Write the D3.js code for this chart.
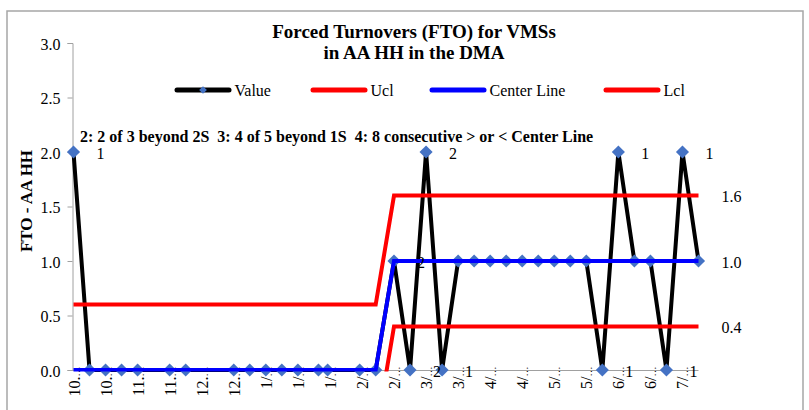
<!DOCTYPE html>
<html>
<head>
<meta charset="utf-8">
<script src="https://cdn.jsdelivr.net/npm/d3@7"></script>
<style>
  body { margin: 0; background: #fff; }
  svg text { font-family: "Liberation Serif", "Times New Roman", serif; fill: #000; }
</style>
</head>
<body>
<svg id="chart" width="809" height="410"></svg>
<script>
// observation dates (weekly, with a few gaps)
var obsDates = ["2011-10-09","2011-10-16","2011-10-23","2011-10-30","2011-11-06","2011-11-20","2011-11-27",
   "2011-12-18","2011-12-25","2012-01-01","2012-01-08","2012-01-15","2012-01-24","2012-01-28","2012-02-11",
   "2012-02-18","2012-02-26","2012-03-04","2012-03-11","2012-03-18","2012-03-25","2012-04-01","2012-04-08",
   "2012-04-15","2012-04-22","2012-04-29","2012-05-06","2012-05-13","2012-05-20","2012-05-27","2012-06-03",
   "2012-06-10","2012-06-17","2012-06-24","2012-07-01","2012-07-08"];
var ftoValues = [2,0,0,0,0,0,0, 0,0,0,0,0,0,0,0, 0,1,0,2,0,1,1,1, 1,1,1,1,1,1,0,2, 1,1,0,2,1];
var uclValues = [0.6,0.6,0.6,0.6,0.6,0.6,0.6, 0.6,0.6,0.6,0.6,0.6,0.6,0.6,0.6, 0.6,1.6,1.6,1.6,1.6,1.6,1.6,1.6,
   1.6,1.6,1.6,1.6,1.6,1.6,1.6,1.6, 1.6,1.6,1.6,1.6,1.6];
var centerValues = [0,0,0,0,0,0,0, 0,0,0,0,0,0,0,0, 0,1,1,1,1,1,1,1, 1,1,1,1,1,1,1,1, 1,1,1,1,1];
var lclValues = [-0.6,-0.6,-0.6,-0.6,-0.6,-0.6,-0.6, -0.6,-0.6,-0.6,-0.6,-0.6,-0.6,-0.6,-0.6, -0.6,0.4,0.4,0.4,0.4,0.4,0.4,0.4,
   0.4,0.4,0.4,0.4,0.4,0.4,0.4,0.4, 0.4,0.4,0.4,0.4,0.4];
// rule flags shown next to points
var ruleFlags = ["1","","","","","","", "","","","","","","","", "","2","2","2","1","","","",
   "","","","","","","1","1", "","","1","1",""];

var xTickDates = ["2011-10-09","2011-10-23","2011-11-06","2011-11-20","2011-12-04","2011-12-18","2012-01-01",
   "2012-01-15","2012-01-29","2012-02-12","2012-02-26","2012-03-11","2012-03-25","2012-04-08","2012-04-22",
   "2012-05-06","2012-05-20","2012-06-03","2012-06-17","2012-07-01"];
var xTickLabels = ["10.","10.","11.","11.","12.","12.","1/","1/","1/","2/","2/","3/","3/","4/","4/","5/","5/","6/","6/","7/"];
var yTicks = [0, 0.5, 1, 1.5, 2, 2.5, 3];

var seriesNames = ["Value", "Ucl", "Center Line", "Lcl"];
var seriesColors = ["#000000", "#ff0000", "#0000ff", "#ff0000"];

var parse = d3.utcParse("%Y-%m-%d");
var svg = d3.select("#chart");

svg.append("rect").attr("x", 7).attr("y", 11).attr("width", 796).attr("height", 420)
   .attr("fill", "#fff").attr("stroke", "#a6a6a6").attr("stroke-width", 1.5);

var dates = obsDates.map(parse);
var x = d3.scaleUtc().domain([dates[0], dates[dates.length - 1]]).range([73.5, 698.5]);
var y = d3.scaleLinear().domain([0, 3]).range([370, 43]);

// title
var title = svg.append("text").attr("text-anchor", "middle")
   .style("font-size", "19px").style("font-weight", "bold");
title.append("tspan").attr("x", 414).attr("y", 38).text("Forced Turnovers (FTO) for VMSs");
title.append("tspan").attr("x", 414).attr("y", 59).text("in AA HH in the DMA");

// axes
var yAxis = svg.append("g").attr("transform", "translate(72.5,0)")
   .call(d3.axisLeft(y).tickValues(yTicks).tickFormat(d3.format(".1f")).tickSizeOuter(0).tickSize(5).tickPadding(7));
yAxis.selectAll("path, line").attr("stroke", "#a0a0a0");
yAxis.selectAll("text").style("font-size", "16px").attr("dy", "0.4em");

var xAxis = svg.append("g").attr("transform", "translate(0,370.5)")
   .call(d3.axisBottom(x).tickValues(xTickDates.map(parse)).tickSize(0)
      .tickFormat(function(d, i) { return xTickLabels[i]; }));
xAxis.select("path").attr("stroke", "#a0a0a0").attr("d", "M72.5,0H698.5");
xAxis.selectAll("text").attr("x", 0).attr("y", 0).attr("dy", null)
   .attr("transform", "translate(5.5,-4) rotate(-90)")
   .style("text-anchor", "end").style("font-size", "16px")
   .append("tspan").style("font-size", "10px").text("\u2026");

svg.append("text").attr("transform", "translate(31.5,201) rotate(-90)").attr("text-anchor", "middle")
   .style("font-size", "17px").style("font-weight", "bold").text("FTO - AA HH");

svg.append("text").attr("x", 80).attr("y", 142).style("font-size", "16px").style("font-weight", "bold")
   .style("white-space", "pre")
   .text("2: 2 of 3 beyond 2S  3: 4 of 5 beyond 1S  4: 8 consecutive > or < Center Line");

// plot clip
svg.append("clipPath").attr("id", "plotclip").append("rect")
   .attr("x", 60).attr("y", 30).attr("width", 660).attr("height", 341.5);

var line = d3.line().x(function(d) { return x(d.date); }).y(function(d) { return y(d.v); });
function seriesData(vals) { return vals.map(function(v, i) { return {date: dates[i], v: v}; }); }

var diamond = d3.symbol().type(d3.symbolSquare).size(86);

// Value series with markers
var gVal = svg.append("g");
gVal.append("path").datum(seriesData(ftoValues)).attr("d", line)
   .attr("fill", "none").attr("stroke", seriesColors[0]).attr("stroke-width", 4).attr("stroke-linejoin", "round");
gVal.selectAll("path.mark").data(seriesData(ftoValues)).enter().append("path").attr("class", "mark")
   .attr("d", diamond).attr("fill", "#4472c4")
   .attr("transform", function(d) { return "translate(" + x(d.date) + "," + y(d.v) + ") rotate(45)"; });

[uclValues, centerValues, lclValues].forEach(function(vals, k) {
   svg.append("path").datum(seriesData(vals)).attr("d", line).attr("clip-path", "url(#plotclip)")
      .attr("fill", "none").attr("stroke", seriesColors[k + 1]).attr("stroke-width", 4);
});

// labels
svg.selectAll("text.flag").data(seriesData(ftoValues).filter(function(d, i) { return ruleFlags[i] !== ""; }))
   .enter().append("text").attr("class", "flag")
   .attr("x", function(d) { return x(d.date) + 23; }).attr("y", function(d) { return y(d.v) + 1; })
   .attr("dy", "0.35em").style("font-size", "16px")
   .text(function(d) { return ruleFlags[dates.indexOf(d.date)]; });

[uclValues, centerValues, lclValues].forEach(function(vals) {
   var n = vals.length - 1;
   svg.append("text").attr("x", x(dates[n]) + 23).attr("y", y(vals[n]) + 1).attr("dy", "0.35em")
      .style("font-size", "16px").text(d3.format(".1f")(vals[n]));
});

// legend
var legendX = [177, 313, 432, 606];
var legend = svg.append("g").attr("transform", "translate(0,90)");
seriesNames.forEach(function(name, k) {
   legend.append("line").attr("x1", legendX[k]).attr("x2", legendX[k] + 52).attr("y1", 0).attr("y2", 0)
      .attr("stroke", seriesColors[k]).attr("stroke-width", 5).attr("stroke-linecap", "round");
   if (k === 0) {
      legend.append("path").attr("d", d3.symbol().type(d3.symbolSquare).size(30))
         .attr("fill", "#4472c4").attr("transform", "translate(" + (legendX[k] + 26) + ",0) rotate(45)");
   }
   legend.append("text").attr("x", legendX[k] + 57.5).attr("y", 0).attr("dy", "0.35em")
      .style("font-size", "16px").text(name);
});
</script>
</body>
</html>
